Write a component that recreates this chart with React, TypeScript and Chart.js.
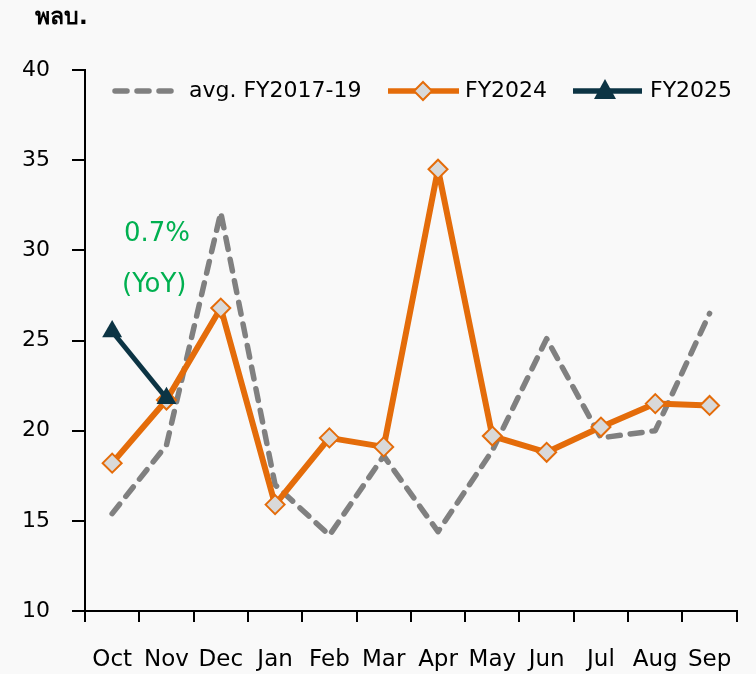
import React, { useEffect, useRef } from "react";
import { Chart, registerables } from "chart.js";

Chart.register(...registerables);

const categories = ["Oct", "Nov", "Dec", "Jan", "Feb", "Mar", "Apr", "May", "Jun", "Jul", "Aug", "Sep"];
const avgFY2017_19 = [15.4, 19.2, 32.1, 17.0, 14.2, 18.6, 14.4, 18.9, 25.1, 19.6, 20.0, 26.5];
const fy2024 = [18.2, 21.7, 26.8, 15.9, 19.6, 19.1, 34.5, 19.7, 18.8, 20.2, 21.5, 21.4];
const fy2025 = [25.5, 21.8, null, null, null, null, null, null, null, null, null, null];
const yTicks = [10, 15, 20, 25, 30, 35, 40];

const ORANGE = "#e46c0a";
const GRAY = "#808080";
const DARK = "#0c3444";
const GREEN = "#00b050";
const FONT = "'DejaVu Sans', 'Noto Sans', sans-serif";

const overlay = {
  id: "overlay",
  beforeDraw(chart: any) {
    const { ctx, width, height } = chart;
    ctx.save();
    ctx.fillStyle = "#f9f9f9";
    ctx.fillRect(0, 0, width, height);
    ctx.restore();
  },
  afterDraw(chart: any) {
    const { ctx } = chart;
    ctx.save();
    // axis unit title
    ctx.fillStyle = "#000";
    ctx.font = `bold 23px ${FONT}`;
    ctx.textBaseline = "middle";
    ctx.textAlign = "left";
    ctx.fillText("พลบ.", 35, 18);

    // YoY annotation
    ctx.fillStyle = GREEN;
    ctx.font = `26px ${FONT}`;
    ctx.fillText("0.7%", 124, 234);
    ctx.fillText("(YoY)", 122, 285);

    // legend
    const ly = 91;
    ctx.font = `22px ${FONT}`;
    ctx.lineCap = "round";
    // avg
    ctx.strokeStyle = GRAY;
    ctx.lineWidth = 5.5;
    ctx.setLineDash([12, 10]);
    ctx.beginPath();
    ctx.moveTo(115, ly);
    ctx.lineTo(175, ly);
    ctx.stroke();
    ctx.setLineDash([]);
    ctx.fillStyle = "#000";
    ctx.fillText("avg. FY2017-19", 189, ly);
    // FY2024
    ctx.lineCap = "butt";
    ctx.strokeStyle = ORANGE;
    ctx.lineWidth = 5.5;
    ctx.beginPath();
    ctx.moveTo(388, ly);
    ctx.lineTo(459, ly);
    ctx.stroke();
    ctx.fillStyle = "#d9d9d9";
    ctx.strokeStyle = ORANGE;
    ctx.lineWidth = 2;
    ctx.beginPath();
    ctx.moveTo(423, ly - 9);
    ctx.lineTo(432, ly);
    ctx.lineTo(423, ly + 9);
    ctx.lineTo(414, ly);
    ctx.closePath();
    ctx.fill();
    ctx.stroke();
    ctx.fillStyle = "#000";
    ctx.fillText("FY2024", 465, ly);
    // FY2025
    ctx.strokeStyle = DARK;
    ctx.lineWidth = 5.5;
    ctx.beginPath();
    ctx.moveTo(573, ly);
    ctx.lineTo(642, ly);
    ctx.stroke();
    ctx.fillStyle = DARK;
    ctx.beginPath();
    ctx.moveTo(605, ly - 12);
    ctx.lineTo(616, ly + 8);
    ctx.lineTo(594, ly + 8);
    ctx.closePath();
    ctx.fill();
    ctx.fillStyle = "#000";
    ctx.fillText("FY2025", 650, ly);
    ctx.restore();
  },
};

export default function App() {
  const ref = useRef<HTMLCanvasElement | null>(null);
  useEffect(() => {
    document.body.style.margin = "0";
    document.body.style.background = "#f9f9f9";
    const canvas = ref.current;
    if (!canvas) return;
    const chart = new Chart(canvas, {
      type: "line",
      data: {
        labels: categories,
        datasets: [
          {
            label: "avg. FY2017-19",
            data: avgFY2017_19,
            borderColor: GRAY,
            borderWidth: 5.5,
            borderDash: [12, 10],
            borderCapStyle: "round",
            borderJoinStyle: "round",
            pointRadius: 0,
            tension: 0,
            order: 3,
          },
          {
            label: "FY2024",
            data: fy2024,
            borderColor: ORANGE,
            borderWidth: 6,
            borderJoinStyle: "round",
            pointStyle: "rectRot",
            pointRadius: 9.5,
            pointBackgroundColor: "#d9d9d9",
            pointBorderColor: ORANGE,
            pointBorderWidth: 2,
            tension: 0,
            order: 2,
          },
          {
            label: "FY2025",
            data: fy2025,
            borderColor: DARK,
            borderWidth: 5,
            borderJoinStyle: "round",
            pointStyle: "triangle",
            pointRadius: 11.5,
            pointBackgroundColor: DARK,
            pointBorderColor: DARK,
            pointBorderWidth: 0,
            tension: 0,
            order: 1,
          },
        ],
      },
      options: {
        responsive: false,
        animation: false,
        layout: { padding: { left: 0, right: 18, top: 70, bottom: 0 } },
        plugins: {
          legend: { display: false },
          tooltip: { enabled: false },
        },
        scales: {
          x: {
            offset: true,
            grid: {
              offset: true,
              drawOnChartArea: false,
              drawTicks: true,
              tickLength: 11,
              color: "#000",
              lineWidth: 2,
            },
            border: { color: "#000", width: 2 },
            ticks: {
              color: "#000",
              font: { family: FONT, size: 23 },
              padding: 24,
              maxRotation: 0,
              autoSkip: false,
            },
            afterFit(scale: any) {
              scale.height = 63;
            },
          },
          y: {
            min: 10,
            max: 40,
            afterBuildTicks(scale: any) {
              scale.ticks = yTicks.map((v) => ({ value: v }));
            },
            grid: {
              drawOnChartArea: false,
              drawTicks: true,
              tickLength: 13,
              color: "#000",
              lineWidth: 2,
            },
            border: { color: "#000", width: 2 },
            ticks: {
              color: "#000",
              font: { family: FONT, size: 22 },
              padding: 22,
            },
            afterFit(scale: any) {
              scale.width = 85;
            },
          },
        },
      },
      plugins: [overlay],
    });
    return () => chart.destroy();
  }, []);
  return (
    <div style={{ width: 756, height: 674, background: "#f9f9f9" }}>
      <canvas ref={ref} width={756} height={674} />
    </div>
  );
}
